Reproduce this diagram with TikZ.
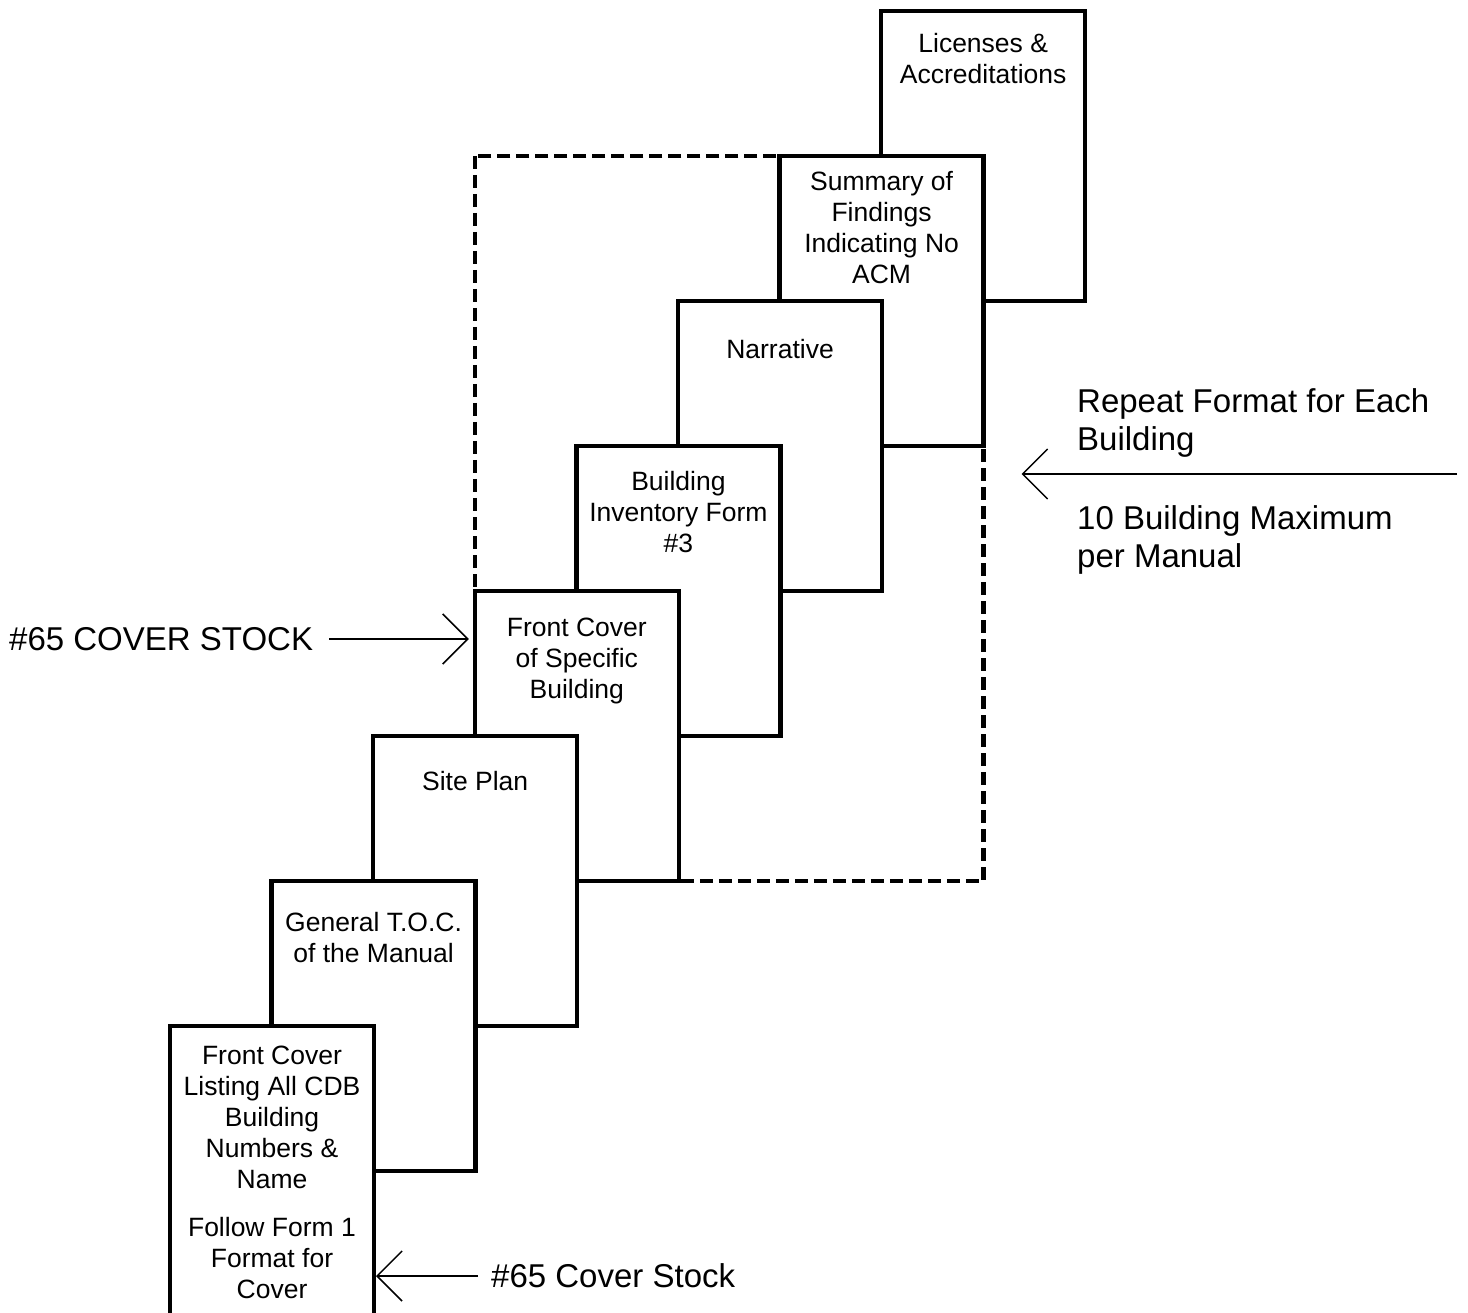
\documentclass[tikz,border=0pt]{standalone}
\usepackage{fontspec}
\setmainfont{Liberation Sans}
\usetikzlibrary{arrows.meta,calc}
\pgfdeclarelayer{background}
\pgfsetlayers{background,main}
\tikzset{
  page/.style={draw, fill=white, line width=4.5pt, minimum width=204pt, minimum height=290pt,
    inner sep=0pt, outer sep=0pt, anchor=north west},
  pagetext/.style={align=center, font=\fontsize{26.5}{31}\selectfont, inner sep=0pt},
  bigtext/.style={font=\fontsize{33}{38}\selectfont, inner sep=0pt},
  pointer/.style={line width=1.5pt, -{Straight Barb[length=25pt,width=50pt]}},
  groupbox/.style={line width=4.5pt, dash pattern=on 13pt off 6pt},
}
\begin{document}
\begin{tikzpicture}[x=1pt,y=-1pt]
\useasboundingbox (0,0) rectangle (1468,1313);
\clip (0,0) rectangle (1468,1313);
% pages, back to front
\foreach \i in {7,6,5,4,3,2,1,0}{
  \node[page] (p\i) at ({170+101.6*\i},{1026-145*\i}) {};
}
% page texts
\node[pagetext] (t0) at ($(p0.north)+(0,146.5)$) {Front Cover\\Listing All CDB\\Building\\Numbers \&\\Name\\[17pt]Follow Form 1\\Format for\\Cover};
\node[pagetext] (t1) at ($(p1.north)+(0,56.5)$) {General T.O.C.\\of the Manual};
\node[pagetext] (t2) at ($(p2.north)+(0,45)$) {Site Plan};
\node[pagetext] (t3) at ($(p3.north)+(0,69.8)$) {Front Cover\\of Specific\\Building};
\node[pagetext] (t4) at ($(p4.north)+(0,66.5)$) {Building\\Inventory Form\\\#3};
\node[pagetext] (t5) at ($(p5.north)+(0,48)$) {Narrative};
\node[pagetext] (t6) at ($(p6.north)+(0,72)$) {Summary of\\Findings\\Indicating No\\ACM};
\node[pagetext] (t7) at ($(p7.north)+(0,47.5)$) {Licenses \&\\Accreditations};
% dashed group box, behind the pages
\begin{pgfonlayer}{background}
\draw[groupbox] (p3.north west |- p6.north) rectangle (p6.east |- p3.south);
\end{pgfonlayer}
% labels
\node[bigtext, anchor=west] (lc) at (9,639) {\#65 COVER STOCK};
\node[bigtext, anchor=west] (lb) at (491,1276) {\#65 Cover Stock};
\node[bigtext, anchor=north west, align=left] (lr1) at (1077,388) {Repeat Format for Each\\Building};
\node[bigtext, anchor=north west, align=left] (lr2) at (1077,505) {10 Building Maximum\\per Manual};
\coordinate (rs) at (1457,474);
% arrows
\draw[pointer, shorten >=6pt] ([xshift=16pt]lc.east) -- (lc.east -| p3.west);
\draw[pointer, shorten >=38pt] (rs) -- (rs -| p6.east);
\draw[pointer, shorten >=2pt] ([xshift=-13pt]lb.west) -- (lb.west -| p0.east);
\end{tikzpicture}
\end{document}
